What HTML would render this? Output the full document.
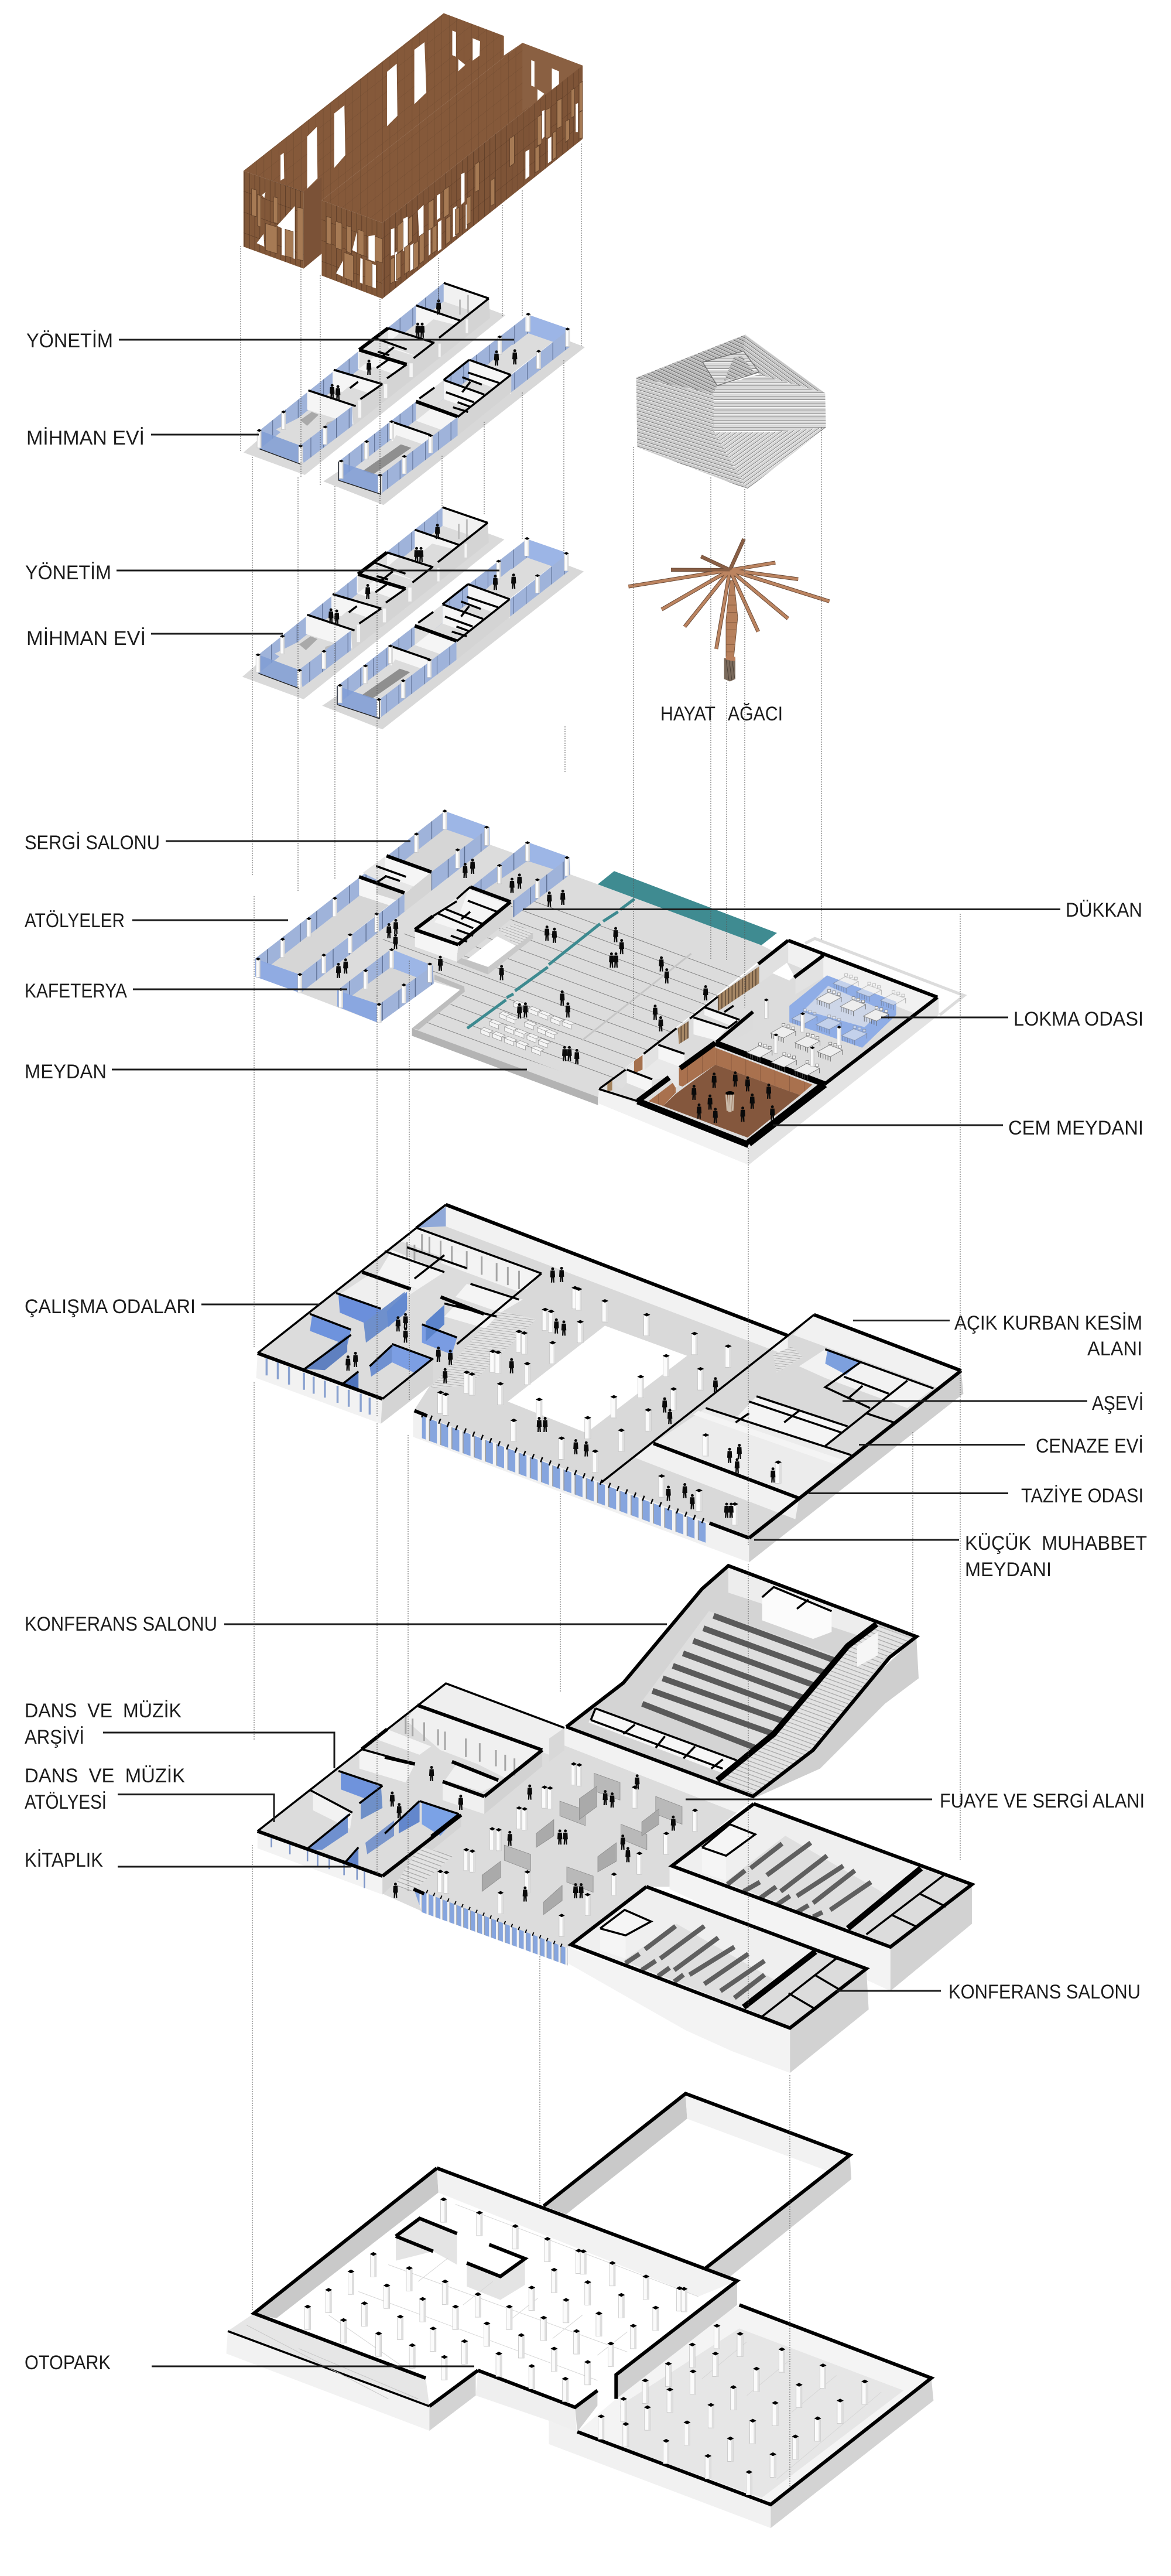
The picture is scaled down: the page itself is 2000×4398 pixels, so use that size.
<!DOCTYPE html>
<html lang="tr"><head><meta charset="utf-8"><title>Patlatılmış aksonometri</title>
<style>
html,body{margin:0;padding:0;background:#fff}
svg{display:block}
svg *{vector-effect:non-scaling-stroke}
text{font-family:"Liberation Sans",sans-serif;font-size:34px;fill:#1c1c1c}
.d{fill:none;stroke:#555;stroke-width:1;stroke-dasharray:2 2}
.l{fill:none;stroke:#1c1c1c;stroke-width:3}
.k{fill:none;stroke:#000;stroke-width:3.5}
.K{fill:none;stroke:#000;stroke-width:6}
.X{fill:none;stroke:#000;stroke-width:10}
.t{fill:none;stroke:#000;stroke-width:1.5}
.w{fill:#f5f5f5}.g{fill:#d4d4d4}.f{fill:#dcdcdc}
.b{fill:url(#gl)}.B{fill:#7a9de2}.e{fill:#f1f1f1}
.pn{fill:#a67a54;stroke:#5d3e28;stroke-width:.8}
</style></head><body>
<svg xmlns="http://www.w3.org/2000/svg" width="2000" height="4398" viewBox="0 0 2000 4398">
<defs>
<pattern id="gl" patternUnits="userSpaceOnUse" width="55" height="100"><rect width="55" height="100" fill="#9fb3da"/><rect width="2.5" height="100" fill="#56688c"/></pattern>
<pattern id="wR" patternUnits="userSpaceOnUse" width="24" height="90" patternTransform="skewY(-38)"><rect width="24" height="90" fill="#7e5437"/><rect width="1.4" height="90" fill="#553723"/><rect width="24" height="1.2" fill="#553723"/></pattern>
<pattern id="wF" patternUnits="userSpaceOnUse" width="22" height="90" patternTransform="skewY(20)"><rect width="22" height="90" fill="#825839"/><rect width="1.6" height="90" fill="#4f3321"/><rect width="22" height="1.4" fill="#4f3321"/></pattern>
<pattern id="wT" patternUnits="userSpaceOnUse" width="32" height="70" patternTransform="skewY(-38)"><rect width="32" height="70" fill="#85593a"/><rect width="1.2" height="70" fill="#6a472e"/><rect width="32" height="1" fill="#6a472e"/></pattern>
<pattern id="pl" patternUnits="userSpaceOnUse" width="100" height="42" patternTransform="rotate(20.2)"><rect width="100" height="1.5" fill="#6b6b6b"/></pattern>
<pattern id="win" patternUnits="userSpaceOnUse" width="15" height="100"><rect width="15" height="100" fill="#86a5de"/><rect width="4.5" height="100" fill="#f2f2f2"/><rect x="4.5" width="1.2" height="100" fill="#999"/></pattern>
<pattern id="st" patternUnits="userSpaceOnUse" width="10" height="9" patternTransform="rotate(20)"><rect width="10" height="9" fill="#e2e2e2"/><rect width="10" height="1.6" fill="#a6a6a6"/></pattern>
<pattern id="r1" patternUnits="userSpaceOnUse" width="10" height="14" patternTransform="rotate(30)"><rect width="10" height="14" fill="#c6c6c6"/><rect width="10" height="2.4" fill="#6f6f6f"/><rect y="2.4" width="10" height="2.4" fill="#f4f4f4"/></pattern>
<pattern id="r2" patternUnits="userSpaceOnUse" width="10" height="14"><rect width="10" height="14" fill="#d8d8d8"/><rect width="10" height="2.4" fill="#777"/><rect y="2.4" width="10" height="2.4" fill="#fff"/></pattern>
<pattern id="r3" patternUnits="userSpaceOnUse" width="10" height="14" patternTransform="rotate(-30)"><rect width="10" height="14" fill="#d6d6d6"/><rect width="10" height="2.4" fill="#777"/><rect y="2.4" width="10" height="2.4" fill="#fff"/></pattern>
<pattern id="r4" patternUnits="userSpaceOnUse" width="10" height="14" patternTransform="rotate(14)"><rect width="10" height="14" fill="#cbcbcb"/><rect width="10" height="2.4" fill="#777"/><rect y="2.4" width="10" height="2.4" fill="#f6f6f6"/></pattern>
<pattern id="r5" patternUnits="userSpaceOnUse" width="10" height="14" patternTransform="rotate(20)"><rect width="10" height="14" fill="#b8b8b8"/><rect width="10" height="3" fill="#666"/><rect y="3" width="10" height="2" fill="#f0f0f0"/></pattern>
<pattern id="tan" patternUnits="userSpaceOnUse" width="14" height="50"><rect width="14" height="50" fill="#a78866"/><rect width="4" height="50" fill="#5e4a38"/></pattern>
<pattern id="cw" patternUnits="userSpaceOnUse" width="60" height="80"><rect width="60" height="80" fill="#a9714e"/><rect width="1.5" height="80" fill="#7c5038"/></pattern>
<path id="pa" d="M0-26a2.5 2.5 0 1 1-.01 0zM-3.6-20.5L3.6-20.5L4.2-9L2.6-9L3 0L.8 0L0-9L-.8 0L-3 0L-2.6-9L-4.2-9Z" fill="#0a0a0a"/>
<g id="ca"><rect x="-5" y="0" width="10" height="36" fill="#fbfbfb" stroke="#b5b5b5" stroke-width=".6"/><rect x="1.5" y="0" width="3.5" height="36" fill="#dedede"/><path d="M-6 0L0-3L6 0L0 3Z" fill="#000"/></g>
<g id="p7" transform="scale(2.53)"><use href="#pa"/></g>
<g id="p8" transform="scale(2.41)"><use href="#pa"/></g>
<g id="p10" transform="scale(1.96)"><use href="#pa"/></g>
<g id="p11" transform="scale(1.26)"><use href="#pa"/></g>
<g id="p3" transform="scale(.784,2.24)"><use href="#pa"/></g>
<g id="c3" transform="scale(.784,2.24)"><use href="#ca"/></g>
<g id="c11" transform="scale(1.1,1.26)"><use href="#ca"/></g>
<g id="c10" transform="scale(1.4,1.7)"><use href="#ca"/></g>
<g id="c7" transform="scale(1.8,2.1)"><use href="#ca"/></g>
<g id="c8" transform="scale(1.6,2.1)"><use href="#ca"/></g>
<g id="c5" transform="scale(.784,1.9)"><use href="#ca"/></g>
<g id="tb"><path d="M0 0L50-28L104-8L54 20Z" fill="#eee" stroke="#777" stroke-width=".8"/><path d="M4 2V22M54 20V40M104-8V12M14 6V24M24 10V28M34 13V31M44 17V35" stroke="#555" stroke-width=".8" fill="none"/><path d="M48-40h12v10h-12zM68-34h12v10h-12zM88-26h12v10h-12z" fill="#f4f4f4" stroke="#777" stroke-width=".8"/></g>
<path id="bn" d="M0 0L30 12L30 26L0 14Z M0 0L12-6L42 6L30 12Z" fill="#f4f4f4" stroke="#999" stroke-width=".8"/>

<g id="fA">
<polygon class="g" points="40,765 305,862 1172,172 1100,145 110,705" style="fill:#dadada"/>
<polygon class="f" points="110,670 905,33 1100,100 285,735"/>
<polygon class="b" points="110,670 905,33 905,113 110,750"/>
<polygon class="e" points="905,33 1100,100 1100,180 905,113"/>
<polygon class="w" points="315,500 520,565 520,645 315,580"/>
<polygon class="w" points="425,412 640,475 640,555 425,492"/>
<polygon class="w" points="535,325 745,390 745,470 535,405"/>
<polygon fill="#e0e0e0" points="540,322 665,228 665,308 540,402"/>
<polygon class="w" points="665,232 865,295 865,375 665,312"/>
<polygon class="w" points="785,133 975,198 975,278 785,213"/>
<polygon fill="#dcdcdc" points="720,245 860,295 790,350 655,300"/>
<polygon fill="#dcdcdc" points="600,395 700,430 650,465 560,430"/>
<polygon fill="#dcdcdc" points="495,480 600,515 560,545 460,510"/>
<polygon fill="#dcdcdc" points="860,190 960,215 900,265 800,240"/>
<polygon fill="#dcdcdc" points="180,665 290,610 430,650 300,735"/>
<polygon fill="#a9a9a9" points="285,625 335,590 365,602 315,650"/>
<polygon fill="#bcbcbc" points="400,635 435,625 420,655 390,660"/>
<path d="M975,105V170M1010,85V165" stroke="#bdbdbd" stroke-width="3" fill="none"/>
<polygon class="g" points="510,565 1100,100 1105,185 515,650"/>
<polygon fill="#7f9cd4" fill-opacity=".85" points="110,670 285,735 285,815 110,750"/>
<polygon class="b" points="285,735 510,565 510,650 300,810"/>
<rect x="882" y="295" width="10" height="58" class="w"/><rect x="1000" y="190" width="10" height="60" class="w"/><rect x="757" y="380" width="14" height="60" class="w"/><rect x="647" y="470" width="14" height="60" class="w"/><rect x="535" y="540" width="14" height="75" class="w"/>
<path class="k" d="M320,497L525,565M430,408L640,470M605,270L745,320M665,228L865,292M785,130L975,195M905,33L1100,100M1100,100L885,270M860,292L775,358M745,385L660,445M640,470L545,535M615,400L665,365M500,487L535,460M620,330L670,345M640,350L690,310"/>
<path class="K" d="M540,322L745,385M540,322L665,228"/>
<use href="#c7" x="213" y="590"/><use href="#c7" x="393" y="655"/><use href="#c7" x="108" y="670"/><use href="#c7" x="287" y="737"/>
<path d="M110,750L285,815" stroke="#222" stroke-width="1.5" fill="none"/>
<polygon class="g" points="385,890 645,992 1515,310 1450,285 452,845" style="fill:#d8d8d8"/>
<polygon class="f" points="450,805 1270,170 1448,232 630,865"/>
<polygon class="b" points="450,805 1270,170 1270,250 450,885"/>
<polygon fill="#9cb5e6" points="1270,170 1448,232 1448,312 1270,250"/>
<polygon class="w" points="680,635 848,695 848,775 680,715"/>
<polygon class="w" points="785,548 965,612 965,692 785,628"/>
<polygon fill="#dedede" points="785,545 905,452 905,532 785,628"/>
<polygon class="w" points="905,455 1080,518 1080,598 905,535"/>
<polygon class="w" points="1015,368 1195,432 1195,512 1015,448"/>
<polygon fill="#dcdcdc" points="700,690 830,735 790,775 670,740"/>
<polygon fill="#8f8f8f" points="555,845 720,730 765,745 600,860"/>
<polygon fill="#dcdcdc" points="1100,380 1195,410 1290,330 1200,300"/>
<polygon class="g" points="965,612 1197,430 1197,505 965,692"/>
<polygon class="b" points="1197,430 1448,232 1448,310 1197,505"/>
<polygon class="b" points="630,865 965,612 965,692 632,945"/>
<polygon fill="#7f9cd6" fill-opacity=".85" points="450,805 630,865 632,945 450,885"/>
<rect x="1258" y="172" width="14" height="70" class="w"/><rect x="1138" y="268" width="14" height="60" class="w"/><rect x="672" y="632" width="14" height="62" class="w"/><rect x="560" y="720" width="14" height="75" class="w"/>
<path class="k" d="M680,632L848,690M905,452L1080,515M1015,365L1195,430M800,532L865,485M905,452L1015,365M1195,430L965,612M1010,420L1145,465M985,440L1070,472M1020,460L985,505M915,505L1035,548M965,548L1020,568M945,570L1010,590"/>
<path class="K" d="M785,545L965,610"/>
<use href="#c7" x="1270" y="168"/><use href="#c7" x="1440" y="232"/><use href="#c7" x="1147" y="266"/><use href="#c7" x="1315" y="328"/><use href="#c7" x="680" y="632"/><use href="#c7" x="848" y="692"/><use href="#c7" x="572" y="718"/><use href="#c7" x="735" y="782"/><use href="#c7" x="462" y="802"/><use href="#c7" x="630" y="863"/>
<path d="M450,885L632,945M450,805V885M632,865V948" stroke="#222" stroke-width="1.5" fill="none"/>
<use href="#p7" x="883" y="170"/><use href="#p7" x="793" y="270"/><use href="#p7" x="812" y="270"/><use href="#p7" x="582" y="430"/><use href="#p7" x="423" y="535"/><use href="#p7" x="448" y="540"/><use href="#p7" x="1133" y="390"/><use href="#p7" x="1212" y="385"/>
</g>
</defs>

<!-- cephe -->
<g transform="translate(400,0) scale(.3954)">
<polygon fill="url(#wT)" points="40,738 905,57 1165,155 1165,240 1245,185 378,865 300,828"/>
<polygon fill="#fff" points="660,310 702,275 705,500 660,545"/><polygon fill="#fff" points="778,215 822,182 830,400 778,450"/><polygon fill="#fff" points="315,590 357,548 360,770 315,815"/><polygon fill="#fff" points="432,490 476,455 480,670 432,725"/><polygon fill="#fff" points="200,670 214,660 216,770 200,780"/><polygon fill="#fff" points="942,132 958,138 958,245 942,238"/><polygon fill="#fff" points="1030,165 1062,178 1060,240 1030,262"/><polygon fill="#fff" points="968,255 998,280 968,308"/>
<polygon fill="#7b5237" points="300,828 378,765 378,1095 300,1160"/>
<polygon fill="url(#wF)" points="40,738 300,828 300,1160 40,1065"/>
<polygon fill="#fff" points="97,1050 127,1010 130,1065"/><polygon fill="#fff" points="185,975 262,890 262,1118 205,1100 205,985"/><polygon fill="#fff" points="120,842 135,830 130,855"/>
<polygon class="pn" points="75,815 95,820 95,935 75,930"/><polygon class="pn" points="100,840 115,845 115,980 100,975"/><polygon class="pn" points="135,965 185,980 185,1095 135,1080"/><polygon class="pn" points="220,990 255,1000 255,1115 220,1105"/><polygon class="pn" points="272,895 298,900 298,1125 272,1120"/><polygon class="pn" points="170,850 188,855 188,965 170,960"/>
<polygon fill="url(#wT)" points="378,865 1245,185 1505,283 640,962"/>
<polygon fill="#8a6042" points="1245,185 1505,283 1505,345 1310,440 1245,480"/>
<polygon fill="#fff" points="1283,260 1297,265 1297,375 1283,370"/><polygon fill="#fff" points="1372,295 1403,308 1403,380 1372,398"/><polygon fill="#fff" points="1310,385 1340,405 1310,435"/>
<polygon fill="url(#wR)" points="640,962 1505,283 1505,600 640,1290"/>
<polygon fill="url(#wF)" points="378,865 640,962 640,1290 378,1190"/>
<polygon fill="#fff" points="440,1180 470,1125 470,1195"/><polygon fill="#fff" points="580,1020 607,1015 607,1130 580,1120"/><polygon fill="#fff" points="545,1115 555,1118 555,1225 543,1220"/><polygon fill="#fff" points="597,1140 612,1145 612,1245 597,1240"/><polygon fill="#fff" points="510,1080 530,1000 530,1090"/>
<polygon class="pn" points="398,935 418,940 418,1055 398,1050"/><polygon class="pn" points="438,955 465,965 465,1080 438,1070"/><polygon class="pn" points="485,975 505,980 505,1095 485,1085"/><polygon class="pn" points="535,990 560,1000 560,1105 535,1095"/><polygon class="pn" points="475,1090 515,1105 515,1215 475,1200"/><polygon class="pn" points="565,1120 595,1130 595,1240 565,1230"/><polygon class="pn" points="608,1020 640,1032 640,1135 608,1125"/>
<g fill="#fff"><polygon points="677,990 692,985 692,1100 677,1105"/><polygon points="730,945 750,935 750,1080 730,1085"/><polygon points="793,910 818,885 818,1020 800,1040"/><polygon points="875,845 890,835 890,940 875,950"/><polygon points="880,960 895,950 895,1075 880,1085"/><polygon points="980,752 995,745 995,870 980,885"/><polygon points="945,900 960,890 960,1015 945,1025"/><polygon points="1258,655 1275,645 1275,760 1258,775"/><polygon points="1355,600 1370,590 1370,695 1355,705"/><polygon points="1330,480 1340,475 1340,590 1330,600"/><polygon points="1475,450 1485,445 1485,570 1475,570"/><polygon points="760,1060 775,1050 775,1160 760,1170"/><polygon points="840,990 848,985 848,1095 840,1105"/><polygon points="1000,885 1008,880 1005,985 1000,990"/><polygon points="695,1090 705,1085 705,1210 695,1215"/></g>
<g><polygon class="pn" points="705,975 730,955 730,1075 705,1095"/><polygon class="pn" points="752,945 770,930 770,1040 752,1055"/><polygon class="pn" points="838,875 862,860 862,980 838,995"/><polygon class="pn" points="800,1020 820,1005 820,1125 800,1140"/><polygon class="pn" points="905,820 928,805 928,925 905,940"/><polygon class="pn" points="735,1070 755,1055 755,1170 735,1185"/><polygon class="pn" points="675,1120 692,1110 692,1215 675,1225"/><polygon class="pn" points="1040,710 1058,698 1058,820 1040,830"/><polygon class="pn" points="1108,780 1125,768 1125,880 1108,890"/><polygon class="pn" points="1190,598 1210,585 1210,705 1190,720"/><polygon class="pn" points="1310,505 1328,495 1328,620 1310,630"/><polygon class="pn" points="1345,475 1365,465 1365,590 1345,600"/><polygon class="pn" points="1395,435 1415,425 1415,545 1395,555"/><polygon class="pn" points="1455,390 1470,380 1470,500 1455,510"/><polygon class="pn" points="1490,360 1505,352 1505,475 1490,485"/><polygon class="pn" points="1430,525 1448,515 1448,600 1430,615"/><polygon class="pn" points="1375,575 1390,565 1390,680 1375,690"/><polygon class="pn" points="1490,485 1505,478 1505,595 1490,600"/><polygon class="pn" points="1005,855 1022,845 1022,960 1005,970"/><polygon class="pn" points="775,1055 795,1040 795,1150 775,1165"/><polygon class="pn" points="855,985 875,970 875,1080 855,1095"/><polygon class="pn" points="955,905 972,895 972,1005 955,1015"/><polygon class="pn" points="915,945 935,930 935,1040 915,1055"/><polygon class="pn" points="700,1100 720,1085 720,1195 700,1210"/><polygon class="pn" points="1300,640 1318,628 1318,735 1300,745"/></g>
</g>

<!-- ust katlar -->
<g transform="translate(400,470) scale(.3954)"><use href="#fA"/></g>
<g transform="translate(-2,383)"><g transform="translate(400,470) scale(.3954)"><use href="#fA"/></g></g>

<!-- cati -->
<g transform="translate(1040,570) scale(.3333,.4209)">
<polygon fill="url(#r1)" points="700,3 1108,240 770,165 690,70"/>
<polygon fill="url(#r2)" points="535,240 555,210 770,165 1108,240 1112,380 800,400 540,400"/>
<polygon fill="url(#r3)" points="540,400 800,400 1112,380 710,630"/>
<polygon fill="url(#r4)" points="140,178 535,240 540,400 710,630 145,460"/>
<polygon fill="url(#r5)" points="140,178 700,3 690,70 480,115 555,210 535,240"/>
<polygon fill="url(#r2)" points="480,115 690,70 770,155 555,210"/>
<polygon fill="url(#r5)" points="590,190 640,95 680,90 750,160"/>
<path d="M480,115L690,70L770,155L555,210Z" fill="none" stroke="#777" stroke-width="1.5"/>
</g>

<!-- hayat agaci -->
<g transform="translate(1040,570) scale(.3333,.4209)">
<polygon fill="#b6805c" stroke="#6d4b34" stroke-width=".8" points="600,1160 622,1000 640,1000 660,1150 640,1310 600,1310"/>
<path d="M600,1170H655M600,1200H652M600,1230H648M600,1260H645M600,1290H642M610,1060H650M606,1100H655M603,1130H655" stroke="#7b5439" stroke-width=".7" fill="none"/>
<polygon fill="#7a6a5c" points="590,1315 648,1315 648,1400 620,1410 590,1400"/>
<path d="M600,1320L615,1405M615,1318L630,1405M630,1318L644,1395" stroke="#4a3f36" stroke-width="1" fill="none"/>
<polygon fill="#b97f5c" points="600,1308 648,1310 645,1327 620,1325 598,1320"/>
<g stroke="#6b4b38" stroke-width="6.5" fill="none"><path d="M620,958L100,1025M620,958L270,1118M620,958L388,1188M620,958L550,1278M620,958L765,1208M620,958L918,1155M620,958L1130,1085M620,958L970,995M620,958L853,928M620,958L692,832M620,958L472,903M620,958L318,957"/></g>
<g stroke="#bc8460" stroke-width="4.5" fill="none"><path d="M620,958L100,1025M620,958L270,1118M620,958L388,1188M620,958L550,1278M620,958L765,1208M620,958L918,1155M620,958L1130,1085M620,958L970,995M620,958L853,928"/></g>
<g stroke="#8a5f45" stroke-width="4.5" fill="none"><path d="M620,958L692,832M620,958L472,903M620,958L318,957"/></g>
</g>

<!-- Kat: meydan, sol -->
<g transform="translate(400,1350) scale(.5102)">
<polygon fill="#dcdcdc" points="1125,280 1217,313 1765,517 1801,535 1221,998 1218,1052 595,820 595,795 770,670 670,640 668,645 485,778 222,677 855,180 925,205"/>
<polygon fill="url(#pl)" points="450,510 1000,365 1700,620 1240,990 640,780 770,680 670,610 500,530"/>
<polygon fill="#b3b3b3" points="595,795 1218,1025 1218,1052 595,820"/>
<polygon fill="#bdbdbd" points="595,795 770,655 772,672 618,800"/>
<polygon fill="#bdbdbd" points="670,615 770,655 770,672 670,632"/>
<polygon fill="#3f8b91" points="1272,269 1817,476 1765,517 1217,313"/>
<path d="M780,795L910,700M912,692L935,680M940,670L1050,590M1053,582L1225,445M1235,437L1285,405M1292,398L1340,362" stroke="#3d8a90" stroke-width="5" fill="none"/>
<path d="M1165,835L1530,545" stroke="#c6c6c6" stroke-width="3" fill="none"/>
<polygon fill="#fff" points="780,565 880,487 945,520 850,590"/>
<polygon fill="#c2c2c2" points="745,555 850,590 850,615 745,575"/>
<polygon fill="#c9c9c9" points="850,590 1000,475 1000,495 850,615"/>
<polygon fill="url(#st)" points="885,465 945,445 1000,475 945,520"/>
<use href="#bn" x="935" y="708"/><use href="#bn" x="985" y="728"/><use href="#bn" x="1020" y="742"/><use href="#bn" x="1060" y="760"/><use href="#bn" x="1098" y="772"/><use href="#bn" x="888" y="745"/><use href="#bn" x="910" y="755"/><use href="#bn" x="972" y="775"/><use href="#bn" x="1015" y="793"/><use href="#bn" x="1042" y="805"/><use href="#bn" x="855" y="772"/><use href="#bn" x="905" y="790"/><use href="#bn" x="940" y="803"/><use href="#bn" x="980" y="818"/><use href="#bn" x="1018" y="835"/><use href="#bn" x="825" y="798"/><use href="#bn" x="865" y="812"/><use href="#bn" x="905" y="828"/><use href="#bn" x="945" y="842"/><use href="#bn" x="995" y="860"/>
<polygon fill="#d6d6d6" points="70,562 705,68 855,122 220,615"/>
<polygon class="b" points="70,562 705,68 705,128 120,585"/>
<polygon fill="#9db6e6" points="705,68 855,122 855,180 705,128"/>
<polygon fill="#e6e6e6" points="430,275 505,220 660,272 570,342"/>
<polygon class="w" points="505,222 655,275 655,340 505,285"/>
<polygon class="w" points="418,290 570,345 570,400 418,350"/>
<polygon fill="#d6d6d6" points="475,300 570,345 570,375 475,345"/>
<polygon class="g" points="570,345 660,272 660,335 570,405"/>
<polygon fill="#8aa7e0" fill-opacity=".95" points="70,562 220,615 222,677 70,622"/>
<polygon class="b" points="220,615 570,345 570,405 222,677"/>
<polygon class="b" points="660,272 855,122 855,182 660,335"/>
<path class="K" d="M510,218L660,272M418,288L570,342"/>
<path class="k" d="M475,252L575,288M480,305L510,285M505,285L555,302"/>
<use href="#c10" x="705" y="68"/><use href="#c10" x="610" y="145"/><use href="#c10" x="337" y="360"/><use href="#c10" x="250" y="428"/><use href="#c10" x="162" y="497"/><use href="#c10" x="80" y="563"/><use href="#c10" x="220" y="615"/><use href="#c10" x="845" y="122"/><use href="#c10" x="748" y="198"/><use href="#c10" x="477" y="412"/><use href="#c10" x="388" y="482"/><use href="#c10" x="300" y="550"/>
<polygon fill="#d6d6d6" points="345,668 525,530 665,585 485,715"/>
<polygon class="b" points="345,668 525,530 525,590 345,722"/>
<polygon fill="#9db6e6" points="525,530 665,585 665,645 525,592"/>
<polygon fill="#8aa7e0" points="345,668 485,715 485,778 345,722"/>
<polygon class="b" points="485,715 665,585 668,645 485,778"/>
<use href="#c10" x="527" y="532"/><use href="#c10" x="655" y="580"/><use href="#c10" x="440" y="602"/><use href="#c10" x="568" y="650"/><use href="#c10" x="357" y="665"/><use href="#c10" x="485" y="715"/>
<polygon fill="#d6d6d6" points="790,325 982,172 1122,222 930,370"/>
<polygon class="b" points="790,325 982,172 982,235 820,345"/>
<polygon fill="#9db6e6" points="982,172 1122,222 1122,280 982,235"/>
<polygon class="b" points="933,368 1122,222 1125,280 933,425"/>
<use href="#c10" x="982" y="174"/><use href="#c10" x="1114" y="224"/><use href="#c10" x="888" y="250"/><use href="#c10" x="1015" y="298"/>
<polygon fill="#e8e8e8" points="605,465 790,322 925,372 750,515"/>
<polygon class="w" points="605,465 750,515 745,572 605,522"/>
<polygon fill="#d5d5d5" points="750,515 925,375 933,425 745,572"/>
<polygon class="w" points="785,330 910,378 830,445 755,410"/>
<polygon class="w" points="700,395 830,445 790,480 670,440"/>
<path class="K" d="M790,322L925,372M925,372L750,515M605,465L750,515M605,465L665,420"/>
<path class="k" d="M665,420L745,370M790,322L745,362M782,368L880,405M705,395L830,445M680,410L800,460M745,465L800,485M725,485L780,505M790,405L760,430"/>
<use href="#p10" x="773" y="292"/><use href="#p10" x="798" y="278"/><use href="#p10" x="518" y="494"/><use href="#p10" x="541" y="480"/><use href="#p10" x="540" y="530"/><use href="#p10" x="349" y="627"/><use href="#p10" x="373" y="612"/><use href="#p10" x="690" y="603"/><use href="#p10" x="895" y="634"/><use href="#p10" x="930" y="342"/><use href="#p10" x="955" y="328"/><use href="#p10" x="1055" y="388"/><use href="#p10" x="1100" y="382"/><use href="#p10" x="1047" y="502"/><use href="#p10" x="1072" y="509"/><use href="#p10" x="1277" y="507"/><use href="#p10" x="1297" y="547"/><use href="#p10" x="1263" y="592"/><use href="#p10" x="1278" y="592"/><use href="#p10" x="1430" y="605"/><use href="#p10" x="1448" y="645"/><use href="#p10" x="1098" y="719"/><use href="#p10" x="1117" y="759"/><use href="#p10" x="955" y="762"/><use href="#p10" x="975" y="759"/><use href="#p10" x="1106" y="905"/><use href="#p10" x="1122" y="905"/><use href="#p10" x="1147" y="915"/>
</g>

<!-- Kat: meydan, sag -->
<g transform="translate(1000,1480) scale(.4145)">
<path d="M905,315L945,295L1560,530L1460,610" fill="none" stroke="#dcdcdc" stroke-width="5"/>
<polygon fill="#f2f2f2" points="55,915 672,1145 672,1228 55,975"/>
<polygon fill="#e3e3e3" points="672,1145 1455,535 1455,610 672,1228"/>
<polygon fill="#dcdcdc" points="55,915 835,303 1455,535 672,1145"/>
<polygon class="e" points="835,305 1450,537 1360,605 980,455 835,395"/>
<polygon fill="#e0e0e0" points="715,400 835,305 835,395 715,480"/>
<polygon fill="#fff" points="770,438 830,395 860,450 840,468"/>
<polygon fill="#e2e2e2" points="865,455 980,370 980,455 865,525"/>
<polygon fill="#e9e9e9" points="60,912 170,835 270,880 370,860 390,830 300,735 240,770 165,835"/>
<polygon class="w" points="170,835 275,875 270,930 170,890"/>
<polygon fill="#dedede" points="120,895 170,850 170,890 150,915"/>
<polygon class="w" points="300,735 408,770 405,830 300,790"/>
<polygon fill="#e2e2e2" points="240,770 300,730 300,790 245,835"/>
<polygon class="w" points="445,625 580,668 540,715 445,690"/>
<polygon class="w" points="490,585 630,632 600,655 490,610"/>
<polygon fill="#dbdbdb" points="540,722 690,600 690,670 590,730"/>
<polygon fill="url(#tan)" points="545,530 715,410 715,480 545,595"/>
<polygon fill="url(#tan)" points="380,665 425,635 425,705 385,730"/>
<polygon fill="#a5714e" points="200,800 235,775 235,835 200,850"/>
<polygon fill="#a5845f" points="90,885 110,875 110,920 90,925"/>
<polygon fill="#a9714e" points="385,830 535,725 535,815 385,900"/>
<polygon fill="url(#cw)" points="260,965 372,880 372,930 320,985"/>
<polygon fill="url(#cw)" points="535,745 935,897 885,940 535,815"/>
<polygon fill="url(#cw)" points="385,830 535,745 535,815 400,905 385,900"/>
<polygon fill="#84573d" points="320,985 372,935 412,905 535,815 885,940 668,1115"/>
<polygon fill="#e8e8e8" points="345,868 385,835 385,900 372,910"/>
<path d="M215,965L672,1145" fill="none" stroke="#000" stroke-width="11"/>
<path d="M672,1138L985,895" fill="none" stroke="#000" stroke-width="13"/>
<path d="M985,895L535,725" fill="none" stroke="#000" stroke-width="10"/>
<path d="M535,725L390,830M345,868L215,965" fill="none" stroke="#000" stroke-width="9"/>
<path class="K" d="M985,895L1450,537M1450,537L835,303M835,303L712,400M860,455L980,365M540,722L690,597"/>
<path class="k" d="M55,915L215,965M60,912L165,835M240,770L375,665M430,625L545,535M300,733L408,770M170,835L275,875M445,620L585,665M490,578L635,630M585,665L625,635M610,572L572,598"/>
<polygon fill="#8fade6" points="995,447 1280,555 1280,610 1140,745 840,640 840,572"/>
<polygon fill="#cdd6e8" points="950,540 1000,490 1225,590 1150,660 900,590"/>
<g opacity=".55"><use href="#tb" x="1020" y="480"/><use href="#tb" x="1115" y="515"/><use href="#tb" x="1215" y="550"/><use href="#tb" x="850" y="625"/><use href="#tb" x="950" y="650"/><use href="#tb" x="1055" y="695"/></g>
<use href="#tb" x="950" y="545"/><use href="#tb" x="1050" y="575"/><use href="#tb" x="1145" y="615"/>
<use href="#tb" x="762" y="685"/><use href="#tb" x="862" y="725"/><use href="#tb" x="955" y="762"/><use href="#tb" x="665" y="765"/><use href="#tb" x="765" y="805"/><use href="#tb" x="860" y="838"/>
<use href="#c8" x="745" y="548"/><use href="#c8" x="895" y="605"/><use href="#c8" x="1045" y="660"/><use href="#c8" x="785" y="692"/><use href="#c8" x="935" y="745"/>
<ellipse cx="595" cy="932" rx="18" ry="8" fill="#000"/>
<path d="M580,938L585,1005M590,938L592,1010M600,938L598,1010M610,938L606,1005" stroke="#c9b9a8" stroke-width="3" fill="none"/>
<use href="#p8" x="530" y="910"/><use href="#p8" x="617" y="905"/><use href="#p8" x="668" y="925"/><use href="#p8" x="755" y="955"/><use href="#p8" x="447" y="960"/><use href="#p8" x="513" y="1000"/><use href="#p8" x="687" y="996"/><use href="#p8" x="468" y="1037"/><use href="#p8" x="535" y="1055"/><use href="#p8" x="648" y="1050"/><use href="#p8" x="770" y="1045"/><use href="#p8" x="495" y="550"/><use href="#p8" x="287" y="630"/><use href="#p8" x="310" y="678"/>
</g>

<!-- Kat 2 -->
<g transform="translate(0,2000) scale(1.2755,.4464)">
<polygon fill="#f1f1f1" points="553,920 1003,1402 1003,1495 553,1015"/>
<polygon fill="url(#win)" points="565,935 945,1345 945,1420 565,1020"/>
<polygon fill="#cfcfcf" points="1003,1402 1287,762 1290,850 1003,1495"/>
<polygon fill="#d9d9d9" points="597,127 1055,628 1090,548 1287,762 1003,1402 553,920 580,800 512,870 345,695 557,215"/>
<polygon fill="#fff" points="810,590 920,705 785,1000 680,880"/>
<polygon fill="#f2f2f2" points="597,127 1055,628 1055,705 597,210"/>
<polygon fill="#8fa8d8" points="597,135 557,215 597,210"/>
<polygon fill="#f1f1f1" points="1090,548 1287,762 1258,830 1062,625"/>
<polygon fill="#f2f2f2" points="1105,680 1250,830 1215,905 1105,790 1070,745"/>
<polygon fill="#7da0de" points="1108,683 1152,730 1133,778 1105,735"/>
<polygon fill="#f4f4f4" points="1013,860 1135,975 1100,1060 985,945"/>
<polygon fill="#ececec" points="945,905 1140,1085 1070,1250 875,1040"/>
<polygon fill="#f4f4f4" points="935,915 1130,1105 1118,1120 928,930"/>
<polygon fill="#f1f1f1" points="875,1040 1070,1250 1065,1330 850,1095"/>
<polygon fill="url(#st)" points="1035,700 1060,670 1075,710 1040,770"/>
<path class="K" d="M597,127L1055,628M1090,548L1287,762M1287,762L1003,1402M875,1040L1070,1250M950,1345L1003,1402"/>
<path class="k" d="M1055,628L805,1190M1090,548L1055,628M945,905L1140,1085M1105,680L1250,830M1215,800L1105,1050M1152,730L1105,825L1165,905M1130,785L1190,850M1155,820L1135,870M1013,860L1135,975M1003,880L1128,1000M1070,915L1050,960M1160,925L1197,960M985,960L1003,925"/>
<path d="M565,930L950,1345" fill="none" stroke="#000" stroke-width="9" stroke-dasharray="2.5 13"/>
<path d="M555,915L572,935" class="K"/>
<polygon fill="#f2f2f2" points="345,695 512,870 510,965 343,790"/>
<path d="M357,715V780M372,730V795M387,748V815M407,770V835M420,785V850M435,800V865M452,820V885M467,835V900M483,850V920M495,865V930" stroke="#8aa2d0" stroke-width="3.5" fill="none"/>
<polygon fill="#d4d4d4" points="512,870 580,715 580,810 510,965"/>
<polygon fill="#dcdcdc" points="345,695 557,215 725,390 580,715 512,870"/>
<polygon fill="url(#st)" points="665,530 718,565 628,820 575,830 610,720"/>
<polygon fill="#f4f4f4" points="525,300 595,385 560,450 505,395"/>
<polygon fill="#efefef" points="497,390 560,450 510,545 455,470"/>
<polygon fill="#f2f2f2" points="557,215 725,390 705,450 535,265"/>
<polygon fill="#f3f3f3" points="600,300 720,395 695,460 590,350"/>
<path d="M565,240V310M575,250V320M590,265V335M605,285V355M625,305V375M645,325V395M665,350V420M680,365V435M695,380V450M545,270V330M555,280V340" stroke="#a6a6a6" stroke-width="3" fill="none"/>
<polygon fill="#f4f4f4" points="610,510 665,555 650,600 595,555"/>
<polygon fill="#f4f4f4" points="625,430 700,490 670,540 610,480"/>
<polygon fill="#6b8fdb" points="453,465 510,525 505,600 455,540"/>
<polygon fill="#6e93dd" points="418,548 470,605 465,665 415,610"/>
<polygon fill="#7c9ee3" points="525,662 580,718 555,770 525,730"/>
<polygon fill="#6f90d0" points="495,745 525,665 525,730 497,785"/>
<polygon fill="#5f80c0" points="408,755 465,625 465,690 435,760"/>
<polygon fill="#4f74bc" points="460,810 480,765 480,830"/>
<polygon fill="#6f90cc" points="487,580 542,460 542,545 490,655"/>
<polygon fill="#648ad0" points="518,535 545,460 545,530 520,595"/>
<polygon fill="#7a9ce2" points="565,585 612,635 605,700 565,655"/>
<polygon fill="#5c84cc" points="570,575 595,510 595,585 570,650"/>
<path class="K" d="M345,695L512,870"/>
<path class="k" d="M345,695L597,127M512,870L580,715M597,127L557,215M557,215L725,390M725,390L612,660M565,585L612,635M595,505L665,555M450,465L510,525M415,545L470,605M485,385L550,450M408,755L470,625M525,660L580,718M460,810L480,765M495,745L525,665M515,305L595,385M610,510L640,540M630,430L695,490M545,290L625,370M595,320L555,410"/>
<path class="K" d="M485,385L550,450M590,480L648,545"/>
<use href="#c3" x="770" y="445"/><use href="#c3" x="775" y="450"/><use href="#c3" x="810" y="495"/><use href="#c3" x="866" y="548"/><use href="#c3" x="730" y="528"/><use href="#c3" x="738" y="535"/><use href="#c3" x="777" y="575"/><use href="#c3" x="695" y="612"/><use href="#c3" x="702" y="618"/><use href="#c3" x="930" y="620"/><use href="#c3" x="975" y="668"/><use href="#c3" x="740" y="655"/><use href="#c3" x="660" y="688"/><use href="#c3" x="667" y="692"/><use href="#c3" x="706" y="735"/><use href="#c3" x="625" y="768"/><use href="#c3" x="632" y="775"/><use href="#c3" x="590" y="845"/><use href="#c3" x="597" y="852"/><use href="#c3" x="670" y="812"/><use href="#c3" x="892" y="705"/><use href="#c3" x="858" y="785"/><use href="#c3" x="938" y="755"/><use href="#c3" x="902" y="832"/><use href="#c3" x="722" y="872"/><use href="#c3" x="822" y="862"/><use href="#c3" x="868" y="912"/><use href="#c3" x="787" y="942"/><use href="#c3" x="688" y="952"/><use href="#c3" x="832" y="990"/><use href="#c3" x="752" y="1020"/><use href="#c3" x="797" y="1070"/><use href="#c3" x="945" y="1008"/><use href="#c3" x="1042" y="1112"/><use href="#c3" x="886" y="1165"/><use href="#c3" x="984" y="1272"/><use href="#c3" x="936" y="1220"/>
<use href="#p3" x="740" y="425"/><use href="#p3" x="752" y="423"/><use href="#p3" x="533" y="612"/><use href="#p3" x="543" y="600"/><use href="#p3" x="543" y="655"/><use href="#p3" x="745" y="620"/><use href="#p3" x="755" y="628"/><use href="#p3" x="466" y="762"/><use href="#p3" x="476" y="748"/><use href="#p3" x="587" y="728"/><use href="#p3" x="603" y="740"/><use href="#p3" x="596" y="810"/><use href="#p3" x="685" y="772"/><use href="#p3" x="890" y="922"/><use href="#p3" x="897" y="966"/><use href="#p3" x="958" y="845"/><use href="#p3" x="722" y="997"/><use href="#p3" x="730" y="997"/><use href="#p3" x="771" y="1082"/><use href="#p3" x="785" y="1090"/><use href="#p3" x="977" y="1115"/><use href="#p3" x="990" y="1100"/><use href="#p3" x="987" y="1155"/><use href="#p3" x="1035" y="1190"/><use href="#p3" x="895" y="1260"/><use href="#p3" x="917" y="1250"/><use href="#p3" x="927" y="1292"/><use href="#p3" x="973" y="1325"/><use href="#p3" x="979" y="1325"/>
</g>

<!-- Kat 1 -->
<g transform="translate(420,2640) scale(.7908)">
<polygon fill="#cfcfcf" points="1448,195 1453,285 1380,340 1240,480 1095,545 1095,530"/>
<polygon fill="#d4d4d4" points="692,390 815,295 985,92 1042,42 1448,195 1390,240 1225,440 1095,540"/>
<polygon fill="#ededed" points="1042,42 1362,165 1330,195 1042,100"/>
<polygon fill="#dedede" points="1000,140 1270,235 1110,440 855,335"/>
<polygon fill="url(#st)" points="1362,170 1440,200 1380,240 1225,440 1095,535 1030,505 1140,405 1300,215"/>
<polygon fill="#f6f6f6" points="1320,215 1365,185 1365,235 1320,260"/>
<polygon fill="#f6f6f6" points="740,380 755,350 1060,462 1030,490"/>
<polygon fill="#fbfbfb" points="1115,110 1140,88 1265,140 1265,185 1225,200 1115,160"/>
<g stroke="#5a5a5a" stroke-width="10" fill="none"><path d="M1010,150L1268,245M988,177L1248,272M966,204L1227,300M944,231L1207,328M922,258L1187,355M900,285L1167,380M878,312L1145,407M856,340L1105,437"/></g>
<path class="K" d="M692,390L815,295L985,92L1042,42L1448,195L1390,240L1225,440L1095,540L692,390"/>
<path class="X" d="M1018,505L1140,405L1300,215L1362,168"/>
<path class="k" d="M745,375L1030,480M755,350L1060,462M745,375L755,350M815,405L840,385M885,435L905,410M945,458L970,432M1005,480L1030,460M1115,110L1140,88L1265,140M1190,135L1215,115"/>
<polygon fill="#f3f3f3" points="25,615 295,712 295,752 25,652"/>
<polygon fill="#dcdcdc" points="25,615 432,296 688,430 1060,575 920,690 915,735 870,735 700,860 695,905 380,788 295,750 295,712"/>
<polygon fill="#f2f2f2" points="688,392 1097,545 1060,575 688,430"/>
<polygon fill="#efefef" points="432,296 688,392 688,430 655,450 370,343"/>
<polygon fill="#d8d8d8" points="655,415 688,392 688,440 655,465"/>
<polygon class="g" points="295,712 465,580 465,605 360,690 295,752"/>
<polygon fill="url(#win)" points="362,738 695,868 695,905 380,790"/>
<polygon fill="url(#st)" points="375,648 448,668 360,745 320,735"/>
<path d="M55,625V650M95,640V665M133,655V680M155,665V690M180,672V697M212,685V710M240,695V720M256,700V738" stroke="#7e96c8" stroke-width="2.5" fill="none"/>
<polygon fill="#f0f0f0" points="345,375 370,345 635,440 560,500 520,480 500,470 420,440"/>
<polygon fill="#f4f4f4" points="245,440 365,470 345,510 245,480"/>
<polygon fill="#f2f2f2" points="145,525 230,575 225,610 145,570"/>
<polygon fill="#f4f4f4" points="305,395 400,432 375,450 285,418"/>
<polygon fill="#f0f0f0" points="425,508 515,540 515,578 425,548"/>
<polygon fill="#d2d2d2" points="515,540 640,440 640,475 515,578"/>
<polygon fill="#f0f0f0" points="455,470 550,510 510,530 430,505"/>
<path d="M345,365V405M360,372V410M385,380V420M415,395V430M430,400V440M475,415V455M505,425V465M540,440V475M560,450V485M580,458V495" stroke="#a6a6a6" stroke-width="3" fill="none"/>
<polygon fill="#6f93dc" points="205,487 290,518 285,555 205,525"/>
<polygon fill="#6f90c8" points="248,550 292,520 295,565 248,590"/>
<polygon fill="#7ba2e6" points="380,553 460,580 420,625 380,600"/>
<polygon fill="#6387cc" points="330,590 375,552 375,595 330,620"/>
<polygon fill="#6f90cf" points="130,655 220,578 220,618 165,655"/>
<polygon fill="#5f82c8" points="212,685 243,650 243,692"/>
<polygon fill="#7a96cc" points="258,640 320,592 320,625 262,665"/>
<path class="K" d="M25,615L295,712M295,712L465,580"/>
<path class="k" d="M25,615L432,296L688,392M200,485L295,517M250,438L365,470M295,517L245,555M140,527L230,575M130,655L225,578M375,550L460,578M375,550L300,620M460,578L400,625M212,685L243,650"/>
<path class="K" d="M370,343L640,440M640,440L515,540M425,508L515,540M250,438L305,395M445,465L545,505M300,455L365,470"/>
<path d="M390,745L690,865" fill="none" stroke="#000" stroke-width="6" stroke-dasharray="2 11"/>
<path class="K" d="M362,740L385,750"/>
<g fill="#b9b9b9" stroke="#8c8c8c" stroke-width=".8"><polygon points="752,490 808,510 808,548 752,528"/><polygon points="678,550 733,570 733,603 678,582"/><polygon points="885,540 942,562 942,600 885,578"/><polygon points="810,600 866,622 866,655 810,632"/><polygon points="558,645 615,665 615,700 558,678"/><polygon points="693,692 750,712 750,747 693,725"/><polygon fill="#aaa" points="720,545 758,518 758,562 720,590"/><polygon fill="#aaa" points="627,620 665,590 665,625 627,650"/><polygon fill="#aaa" points="855,595 892,567 892,600 855,625"/><polygon fill="#aaa" points="760,670 800,640 800,680 760,703"/><polygon fill="#aaa" points="510,710 550,680 550,715 510,745"/><polygon fill="#aaa" points="643,768 683,732 683,765 643,795"/></g>
<use href="#c11" x="708" y="470"/><use href="#c11" x="720" y="472"/><use href="#c11" x="645" y="520"/><use href="#c11" x="657" y="522"/><use href="#c11" x="590" y="565"/><use href="#c11" x="602" y="567"/><use href="#c11" x="532" y="610"/><use href="#c11" x="546" y="612"/><use href="#c11" x="476" y="655"/><use href="#c11" x="489" y="658"/><use href="#c11" x="420" y="702"/><use href="#c11" x="433" y="704"/><use href="#c11" x="840" y="520"/><use href="#c11" x="970" y="570"/><use href="#c11" x="908" y="620"/><use href="#c11" x="850" y="663"/><use href="#c11" x="795" y="708"/><use href="#c11" x="738" y="752"/><use href="#c11" x="682" y="797"/><use href="#c11" x="608" y="703"/><use href="#c11" x="550" y="748"/>
<use href="#p11" x="401" y="507"/><use href="#p11" x="316" y="562"/><use href="#p11" x="331" y="587"/><use href="#p11" x="464" y="569"/><use href="#p11" x="613" y="547"/><use href="#p11" x="776" y="559"/><use href="#p11" x="791" y="564"/><use href="#p11" x="845" y="525"/><use href="#p11" x="923" y="614"/><use href="#p11" x="678" y="644"/><use href="#p11" x="690" y="644"/><use href="#p11" x="570" y="647"/><use href="#p11" x="814" y="655"/><use href="#p11" x="825" y="682"/><use href="#p11" x="712" y="760"/><use href="#p11" x="724" y="760"/><use href="#p11" x="603" y="767"/><use href="#p11" x="323" y="759"/>
<polygon fill="#f3f3f3" points="915,690 1392,865 1392,960 915,740"/>
<polygon fill="#d2d2d2" points="1392,865 1568,730 1568,815 1392,960"/>
<polygon fill="#efefef" points="1097,558 1568,730 1392,865 920,690"/>
<polygon fill="#dfdfdf" points="1035,725 1165,625 1380,750 1295,825"/>
<polygon fill="#dcdcdc" points="1300,825 1458,695 1568,735 1392,865"/>
<polygon class="w" points="985,650 1045,600 1100,622 1037,668"/>
<polygon class="w" points="985,650 1037,668 1037,722 985,705"/>
<g stroke="#5f5f5f" stroke-width="8" fill="none"><path d="M1090,695L1158,642M1125,710L1220,640M1155,745L1255,668M1190,755L1290,690M1225,770L1315,700M1262,785L1350,725M1040,730L1078,700M1075,745L1110,725M1110,760L1145,735M1145,775L1175,755M1190,790L1215,775M1225,800L1245,790"/></g>
<path class="X" d="M1300,825L1458,695"/>
<path class="K" d="M1097,556L1568,730L1392,865L920,690L1097,556"/>
<path class="k" d="M985,650L1045,600L1100,622L1037,668L985,650M1340,838L1510,708M1395,796L1450,822M1455,750L1512,778"/>
<polygon fill="#f3f3f3" points="695,865 1175,1040 1175,1137 1050,1090 950,1045 695,900"/>
<polygon fill="#d2d2d2" points="1175,1040 1340,912 1345,1000 1175,1137"/>
<polygon fill="#efefef" points="865,735 1340,912 1175,1040 702,860"/>
<polygon fill="#dfdfdf" points="815,895 930,815 1140,935 1070,995"/>
<polygon fill="#dcdcdc" points="1075,995 1230,875 1340,912 1175,1040"/>
<polygon class="w" points="765,825 818,785 875,810 820,840"/>
<polygon class="w" points="765,825 820,840 820,890 765,872"/>
<g stroke="#5f5f5f" stroke-width="8" fill="none"><path d="M862,870L928,820M895,890L990,820M925,915L1020,845M958,925L1055,865M990,945L1085,880M1025,960L1120,895M1055,975L1120,925M820,900L850,880M855,915L885,895M890,928L915,910M925,940L945,925"/></g>
<path class="X" d="M1075,995L1230,875"/>
<path class="K" d="M865,735L1340,912L1175,1040L702,860L865,735"/>
<path class="k" d="M765,825L818,785L875,810L820,840L765,825M1115,1015L1275,890M1172,965L1228,998M1228,925L1282,957"/>
</g>

<!-- otopark -->
<g transform="translate(0,3500) scale(1.2755,.5727)">
<polygon fill="#c9c9c9" points="918,130 728,465 758,490 920,205"/>
<polygon fill="#f2f2f2" points="918,130 1138,313 1110,362 920,205"/>
<polygon fill="#d0d0d0" points="1138,313 1140,385 975,680 945,650"/>
<path class="K" d="M728,465L918,130L1138,313L945,650"/>
<polygon fill="#f1f1f1" points="735,1105 773,1138 1032,1355 1032,1425 735,1175"/>
<polygon fill="#d3d3d3" points="1032,1355 1247,978 1250,1045 1032,1425"/>
<polygon fill="#f4f4f4" points="990,760 1247,978 1032,1355 773,1138 825,1040 825,968"/>
<polygon fill="#e6e6e6" points="990,830 1210,1015 1020,1335 840,1190 830,1060"/>
<path class="K" d="M990,760L1247,978L1032,1355L773,1138"/>
<polygon fill="#f2f2f2" points="305,838 575,1062 575,1135 303,905"/>
<polygon fill="#d3d3d3" points="575,1062 637,950 637,1030 575,1135"/>
<polygon fill="#efefef" points="637,1030 640,955 770,1065 772,1138 735,1105"/>
<polygon fill="#e6e6e6" points="340,785 570,978 575,1062 305,838"/>
<polygon fill="#fff" points="340,785 585,352 987,688 825,968 825,1040 770,1065 640,955 570,978"/>
<polygon fill="#c9c9c9" points="585,352 340,785 370,800 587,425"/>
<polygon fill="#f2f2f2" points="585,352 987,688 935,735 587,425"/>
<polygon fill="#cfcfcf" points="987,688 825,968 825,1040 987,760"/>
<polygon fill="#e4e4e4" points="530,555 562,502 612,547 612,640 580,600 530,628"/>
<polygon fill="#e4e4e4" points="625,635 670,675 703,622 703,700 670,745 625,705"/>
<polygon fill="#cfcfcf" points="770,1065 800,1015 800,1060 773,1138"/>
<g stroke="#d6d6d6" stroke-width="1" fill="none"><path d="M610,460L935,735M520,640L840,900M480,720L800,985M440,790L540,945M600,620L560,690M660,690L620,760M720,740L680,810M780,790L740,860M840,840L800,910M1000,870L940,980M1060,920L1000,1030M1120,970L1060,1080M1180,1020L1040,1280"/></g>
<path class="K" d="M585,352L987,688L825,968L825,1040M585,352L340,785L570,978M640,955L770,1065L800,1015M640,955L575,1062"/>
<path class="k" d="M305,838L575,1062"/>
<path class="K" d="M530,555L562,502L612,547M530,555L580,600M655,580L703,622L670,675L625,635"/>
<path d="M330,820L520,1040M400,890L560,1040" stroke="#c6c6c6" stroke-width="1" fill="none"/>
<g><use href="#c5" x="594" y="445"/><use href="#c5" x="642" y="485"/><use href="#c5" x="690" y="525"/><use href="#c5" x="733" y="563"/><use href="#c5" x="775" y="598"/><use href="#c5" x="781" y="600"/><use href="#c5" x="820" y="635"/><use href="#c5" x="865" y="675"/><use href="#c5" x="910" y="710"/><use href="#c5" x="916" y="712"/><use href="#c5" x="500" y="608"/><use href="#c5" x="470" y="660"/><use href="#c5" x="440" y="715"/><use href="#c5" x="412" y="765"/><use href="#c5" x="548" y="650"/><use href="#c5" x="518" y="702"/><use href="#c5" x="488" y="755"/><use href="#c5" x="460" y="805"/><use href="#c5" x="596" y="690"/><use href="#c5" x="566" y="742"/><use href="#c5" x="536" y="795"/><use href="#c5" x="507" y="845"/><use href="#c5" x="552" y="880"/><use href="#c5" x="640" y="728"/><use href="#c5" x="610" y="765"/><use href="#c5" x="580" y="830"/><use href="#c5" x="742" y="655"/><use href="#c5" x="712" y="708"/><use href="#c5" x="682" y="765"/><use href="#c5" x="652" y="815"/><use href="#c5" x="622" y="868"/><use href="#c5" x="595" y="915"/><use href="#c5" x="787" y="692"/><use href="#c5" x="758" y="745"/><use href="#c5" x="728" y="798"/><use href="#c5" x="698" y="850"/><use href="#c5" x="668" y="905"/><use href="#c5" x="712" y="942"/><use href="#c5" x="832" y="730"/><use href="#c5" x="802" y="785"/><use href="#c5" x="772" y="838"/><use href="#c5" x="742" y="890"/><use href="#c5" x="757" y="980"/><use href="#c5" x="878" y="768"/><use href="#c5" x="848" y="822"/><use href="#c5" x="818" y="875"/><use href="#c5" x="787" y="930"/><use href="#c5" x="960" y="822"/><use href="#c5" x="927" y="878"/><use href="#c5" x="895" y="935"/><use href="#c5" x="864" y="985"/><use href="#c5" x="835" y="1040"/><use href="#c5" x="991" y="846"/><use href="#c5" x="958" y="905"/><use href="#c5" x="928" y="958"/><use href="#c5" x="897" y="1012"/><use href="#c5" x="867" y="1065"/><use href="#c5" x="838" y="1115"/><use href="#c5" x="805" y="1092"/><use href="#c5" x="1047" y="892"/><use href="#c5" x="1013" y="950"/><use href="#c5" x="982" y="1005"/><use href="#c5" x="952" y="1058"/><use href="#c5" x="920" y="1110"/><use href="#c5" x="892" y="1165"/><use href="#c5" x="1102" y="940"/><use href="#c5" x="1070" y="998"/><use href="#c5" x="1038" y="1052"/><use href="#c5" x="1008" y="1105"/><use href="#c5" x="978" y="1158"/><use href="#c5" x="948" y="1210"/><use href="#c5" x="1158" y="988"/><use href="#c5" x="1125" y="1045"/><use href="#c5" x="1095" y="1098"/><use href="#c5" x="1065" y="1152"/><use href="#c5" x="1035" y="1205"/><use href="#c5" x="1003" y="1258"/></g>
</g>

<path class="d" d="M411 420V770M514 460V815M547 470V830M649 510V862M749 440V515M858 350V540M892 325V540M993 245V590M431 780V1496M509 815V1522M572 830V1500M644 862V1700M755 778V870M827 720V880M892 670V920M963 615V945M1082 763V1739M1214 815V1637M1272 835V1720M1241 1165V1640M1403 730V1606M965 1240V1320M434 1530V2300M644 1700V2420M699 1640V2390M1278 1960V2640M1640 1560V2390M434 2360V2970M644 2430V3200M697 2450V3230M957 2550V2890M1559 2445V2790M1640 2390V3175M1278 2670V3430M431 3150V3946M922 3340V3765M1349 3543V4245"/>

<path class="l" d="M203 580H878M258 742H442M199 974H853M258 1082H483M283 1436H701M226 1571H492M227 1689H593M191 1826H900M893 1552.5H1811M1505 1737H1722M1320 1921H1713M344 2227H546M1457 2254.5H1622M1439 2392H1857M1467 2466.5H1751M1381 2549.5H1722M1288 2629H1638M383 2773H1139M176 2958H571V3019M201 3063.6H468V3111M201 3187H600M1171 3072H1592M1429 3399H1607M259 4040H810"/>

<text x="45" y="593" textLength="148" lengthAdjust="spacingAndGlyphs">YÖNETİM</text>
<text x="45" y="759" textLength="202" lengthAdjust="spacingAndGlyphs">MİHMAN EVİ</text>
<text x="43" y="989" textLength="147" lengthAdjust="spacingAndGlyphs">YÖNETİM</text>
<text x="45" y="1101" textLength="204" lengthAdjust="spacingAndGlyphs">MİHMAN EVİ</text>
<text x="1128" y="1230" textLength="94" lengthAdjust="spacingAndGlyphs">HAYAT</text>
<text x="1243" y="1230" textLength="94" lengthAdjust="spacingAndGlyphs">AĞACI</text>
<text x="42" y="1450" textLength="231" lengthAdjust="spacingAndGlyphs">SERGİ SALONU</text>
<text x="42" y="1583" textLength="171" lengthAdjust="spacingAndGlyphs">ATÖLYELER</text>
<text x="42" y="1703" textLength="175" lengthAdjust="spacingAndGlyphs">KAFETERYA</text>
<text x="42" y="1841" textLength="140" lengthAdjust="spacingAndGlyphs">MEYDAN</text>
<text x="1820" y="1565" textLength="131" lengthAdjust="spacingAndGlyphs">DÜKKAN</text>
<text x="1731" y="1751" textLength="222" lengthAdjust="spacingAndGlyphs">LOKMA ODASI</text>
<text x="1722" y="1937" textLength="231" lengthAdjust="spacingAndGlyphs">CEM MEYDANI</text>
<text x="42" y="2242" textLength="292" lengthAdjust="spacingAndGlyphs">ÇALIŞMA ODALARI</text>
<text x="1630" y="2270" textLength="321" lengthAdjust="spacingAndGlyphs">AÇIK KURBAN KESİM</text>
<text x="1857" y="2314" textLength="94" lengthAdjust="spacingAndGlyphs">ALANI</text>
<text x="1865" y="2407" textLength="88" lengthAdjust="spacingAndGlyphs">AŞEVİ</text>
<text x="1769" y="2480" textLength="184" lengthAdjust="spacingAndGlyphs">CENAZE EVİ</text>
<text x="1744" y="2565" textLength="209" lengthAdjust="spacingAndGlyphs">TAZİYE ODASI</text>
<text x="1648" y="2646" textLength="311" lengthAdjust="spacingAndGlyphs" xml:space="preserve">KÜÇÜK  MUHABBET</text>
<text x="1648" y="2691" textLength="148" lengthAdjust="spacingAndGlyphs">MEYDANI</text>
<text x="42" y="2784" textLength="329" lengthAdjust="spacingAndGlyphs">KONFERANS SALONU</text>
<text x="42" y="2932" textLength="268" lengthAdjust="spacingAndGlyphs" xml:space="preserve">DANS  VE  MÜZİK</text>
<text x="42" y="2977" textLength="102" lengthAdjust="spacingAndGlyphs">ARŞİVİ</text>
<text x="42" y="3043" textLength="274" lengthAdjust="spacingAndGlyphs" xml:space="preserve">DANS  VE  MÜZİK</text>
<text x="42" y="3088" textLength="140" lengthAdjust="spacingAndGlyphs">ATÖLYESİ</text>
<text x="42" y="3187" textLength="134" lengthAdjust="spacingAndGlyphs">KİTAPLIK</text>
<text x="1605" y="3086" textLength="350" lengthAdjust="spacingAndGlyphs">FUAYE VE SERGİ ALANI</text>
<text x="1620" y="3412" textLength="328" lengthAdjust="spacingAndGlyphs">KONFERANS SALONU</text>
<text x="42" y="4045" textLength="147" lengthAdjust="spacingAndGlyphs">OTOPARK</text>
</svg>
</body></html>
